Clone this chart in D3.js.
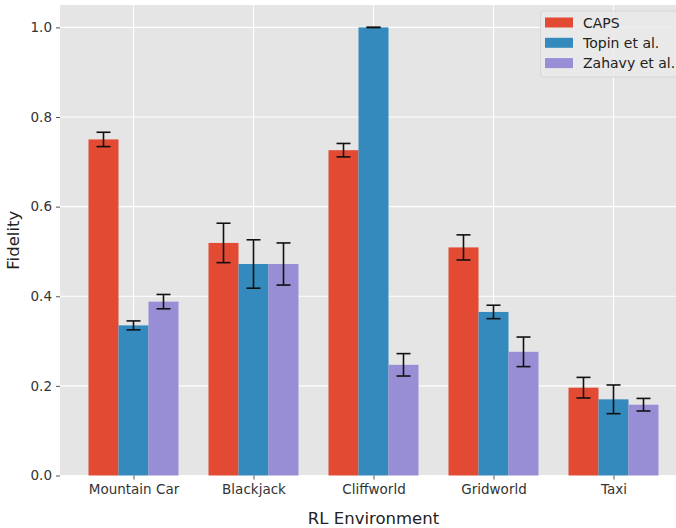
<!DOCTYPE html>
<html><head><meta charset="utf-8">
<script src="https://cdn.jsdelivr.net/npm/d3@7"></script>
<style>body{margin:0;background:#fff}svg{display:block;font-family:"DejaVu Sans",sans-serif}</style>
</head><body>
<svg id="c" width="676" height="528"></svg>
<script>
const categories = ["Mountain Car", "Blackjack", "Cliffworld", "Gridworld", "Taxi"];
const seriesNames = ["CAPS", "Topin et al.", "Zahavy et al."];
const capsValues = [0.750, 0.519, 0.726, 0.509, 0.196];
const capsErr    = [0.016, 0.044, 0.015, 0.028, 0.023];
const topinValues = [0.335, 0.472, 1.000, 0.365, 0.170];
const topinErr    = [0.010, 0.054, 0.000, 0.015, 0.032];
const zahavyValues = [0.388, 0.472, 0.247, 0.276, 0.158];
const zahavyErr    = [0.016, 0.047, 0.025, 0.033, 0.014];
const yTicks = [0.0, 0.2, 0.4, 0.6, 0.8, 1.0];
const colors = ["#E24A33", "#348ABD", "#988ED5"];

(function () {
const series = [
  {name: seriesNames[0], values: capsValues, err: capsErr, offset: -0.25},
  {name: seriesNames[1], values: topinValues, err: topinErr, offset: 0},
  {name: seriesNames[2], values: zahavyValues, err: zahavyErr, offset: 0.25}
];
const barW = 0.25;

const svg = d3.select("#c");
const mLeft = 60, mTop = 5, mBottom = 475.5;
const x = d3.scaleLinear().domain([-0.6125, 4.6125]).range([mLeft, mLeft + 5.225 * 120]);
const y = d3.scaleLinear().domain([0, 1.05]).range([mBottom, mTop]);

svg.append("rect").attr("x", mLeft).attr("y", mTop).attr("width", x(4.6125) - mLeft).attr("height", mBottom - mTop).attr("fill", "#E5E5E5");

svg.append("g").selectAll("line").data(yTicks).join("line")
  .attr("x1", mLeft).attr("x2", x(4.6125)).attr("y1", d => y(d)).attr("y2", d => y(d))
  .attr("stroke", "#fff").attr("stroke-width", 1.2);
svg.append("g").selectAll("line").data(categories).join("line")
  .attr("x1", (d, i) => x(i)).attr("x2", (d, i) => x(i)).attr("y1", mTop).attr("y2", mBottom)
  .attr("stroke", "#fff").attr("stroke-width", 1.2);

series.forEach((s, si) => {
  svg.append("g").selectAll("rect").data(s.values).join("rect")
    .attr("x", (d, i) => x(i + s.offset - barW / 2))
    .attr("width", x(barW) - x(0))
    .attr("y", d => y(d))
    .attr("height", d => mBottom - y(d))
    .attr("fill", colors[si]);
});
series.forEach((s) => {
  const g = svg.append("g").attr("stroke", "#111").attr("stroke-width", 1.6);
  s.values.forEach((v, i) => {
    const cx = x(i + s.offset);
    const y1 = y(v + s.err[i]), y2 = y(v - s.err[i]);
    g.append("line").attr("x1", cx).attr("x2", cx).attr("y1", y1).attr("y2", y2);
    g.append("line").attr("x1", cx - 7).attr("x2", cx + 7).attr("y1", y1).attr("y2", y1);
    g.append("line").attr("x1", cx - 7).attr("x2", cx + 7).attr("y1", y2).attr("y2", y2);
  });
});

const yAxis = d3.axisLeft(y).tickValues(yTicks).tickFormat(d3.format(".1f")).tickSize(4).tickPadding(4);
const gy = svg.append("g").attr("transform", `translate(${mLeft},0)`).call(yAxis);
gy.select(".domain").remove();
gy.selectAll(".tick line").attr("stroke", "#555");
gy.selectAll(".tick text").attr("fill", "#333").attr("font-size", 13.5).attr("font-family", "DejaVu Sans");

const xAxis = d3.axisBottom(x).tickValues(d3.range(categories.length)).tickFormat(i => categories[i]).tickSize(4).tickPadding(5);
const gx = svg.append("g").attr("transform", `translate(0,${mBottom})`).call(xAxis);
gx.select(".domain").remove();
gx.selectAll(".tick line").attr("stroke", "#555");
gx.selectAll(".tick text").attr("fill", "#333").attr("font-size", 13.5).attr("font-family", "DejaVu Sans");

svg.append("text").attr("x", x(2)).attr("y", 524).attr("text-anchor", "middle")
  .attr("font-size", 16.5).attr("fill", "#222").text("RL Environment");
svg.append("text").attr("transform", `translate(19,${(mTop + mBottom) / 2}) rotate(-90)`).attr("text-anchor", "middle")
  .attr("font-size", 16.5).attr("fill", "#222").text("Fidelity");

const lg = svg.append("g");
lg.append("rect").attr("x", 540.5).attr("y", 11).attr("width", 140).attr("height", 66).attr("rx", 3)
  .attr("fill", "#EAEAEA").attr("fill-opacity", 0.85).attr("stroke", "#D6D6D6");
series.forEach((s, si) => {
  const cy = 22.5 + si * 20.3;
  lg.append("rect").attr("x", 545).attr("y", cy - 5).attr("width", 28).attr("height", 10).attr("fill", colors[si]);
  lg.append("text").attr("x", 583).attr("y", cy + 5).attr("font-size", 14).attr("fill", "#222").text(s.name);
});
})();
</script>
</body></html>
